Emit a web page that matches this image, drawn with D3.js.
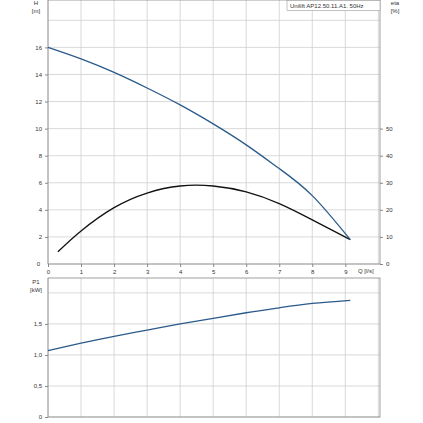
<!DOCTYPE html>
<html><head><meta charset="utf-8">
<script src="https://cdn.jsdelivr.net/npm/d3@7"></script>
<style>body{margin:0;background:#fff}text{font-family:"Liberation Sans",Arial,sans-serif;font-size:6px;fill:#333}</style>
</head><body><svg id="c" width="423" height="423"></svg>
<script>
"use strict";
const qH = [0, 1, 2, 3, 4, 5, 6, 7, 8, 9.15];
const headH = [16, 15.15, 14.15, 13.0, 11.75, 10.35, 8.8, 7.05, 5.05, 1.8];
const qEta = [0.3, 1, 2, 3, 4, 5, 6, 7, 8, 9.15];
const eta = [4.5, 12.2, 20.8, 26.2, 28.8, 28.8, 26.6, 22.3, 16.3, 9];
const qP = [0, 1, 2, 3, 4, 5, 6, 7, 8, 9.15];
const p1 = [1.07, 1.19, 1.3, 1.4, 1.5, 1.59, 1.68, 1.76, 1.83, 1.88];
const qTicks = [0, 1, 2, 3, 4, 5, 6, 7, 8, 9];
const hTicks = [0, 2, 4, 6, 8, 10, 12, 14, 16];
const etaTicks = [0, 10, 20, 30, 40, 50];
const pTicks = [0, 0.5, 1.0, 1.5, 2.0];
const title = "Unilift AP12.50.11.A1. 50Hz";

const svg = d3.select("#c");
const blue = "#2a5a8a", grid = "#cfcfcf", frame = "#888";
const x = d3.scaleLinear().domain([0, 10.05]).range([48, 380]);
const yH = d3.scaleLinear().domain([0, 19.5]).range([264, 0]);
const yE = d3.scaleLinear().domain([0, 97.5]).range([264, 0]);
const yP = d3.scaleLinear().domain([0, 2.24]).range([417, 278]);
const fmt = d => d === 0 ? "0" : d.toFixed(1).replace(".", ",");

function panel(y0, y1, yTicks) {
  const g = svg.append("g");
  qTicks.concat([10]).forEach(q => g.append("line").attr("x1", x(q)).attr("x2", x(q))
    .attr("y1", y0).attr("y2", y1).attr("stroke", grid).attr("stroke-width", 0.8));
  yTicks.forEach(v => g.append("line").attr("x1", 48).attr("x2", 380)
    .attr("y1", v).attr("y2", v).attr("stroke", grid).attr("stroke-width", 0.8));
  g.append("rect").attr("x", 48).attr("y", y0).attr("width", 332).attr("height", y1 - y0)
    .attr("fill", "none").attr("stroke", frame).attr("stroke-width", 0.8);
}
panel(0, 264, hTicks.concat([18]).map(yH));
panel(278, 417, pTicks.map(yP));

svg.append("g").attr("transform", "translate(48,0)")
  .call(d3.axisLeft(yH).tickValues(hTicks.filter(d => d > 0)).tickSize(3).tickFormat(d3.format("d")))
  .call(g => g.select(".domain").remove());
svg.append("text").attr("x", 40).attr("y", 266).attr("text-anchor", "end").text("0");
svg.append("g").attr("transform", "translate(380,0)")
  .call(d3.axisRight(yE).tickValues(etaTicks).tickSize(3)).call(g => g.select(".domain").remove());
svg.append("g").attr("transform", "translate(0,264)")
  .call(d3.axisBottom(x).tickValues(qTicks).tickSize(3)).call(g => g.select(".domain").remove());
svg.append("g").attr("transform", "translate(48,0)")
  .call(d3.axisLeft(yP).tickValues(pTicks.slice(0, 4)).tickSize(3).tickFormat(fmt))
  .call(g => g.select(".domain").remove());
svg.selectAll(".tick text").style("font-size", "6px").attr("fill", "#333");
svg.selectAll(".tick line").attr("stroke", frame);

svg.append("text").attr("x", 358).attr("y", 273).text("Q [l/s]");
[["H", 36, 5], ["[m]", 36, 13], ["eta", 395, 5], ["[%]", 395, 13], ["P1", 36, 284], ["[kW]", 36, 292]]
  .forEach(([t, tx, ty]) => svg.append("text").attr("x", tx).attr("y", ty).attr("text-anchor", "middle").text(t));

svg.append("rect").attr("x", 287).attr("y", 0.5).attr("width", 93).attr("height", 10)
  .attr("fill", "#fff").attr("stroke", "#999").attr("stroke-width", 0.6);
svg.append("text").attr("x", 290).attr("y", 8).text(title);

const line = (xs, ys, yS) => d3.line().curve(d3.curveNatural)
  .x((d, i) => x(xs[i])).y(d => yS(d))(ys);
svg.append("path").attr("d", line(qEta, eta, yE)).attr("fill", "none").attr("stroke", "#111").attr("stroke-width", 1.3);
svg.append("path").attr("d", line(qH, headH, yH)).attr("fill", "none").attr("stroke", blue).attr("stroke-width", 1.3);
svg.append("path").attr("d", line(qP, p1, yP)).attr("fill", "none").attr("stroke", blue).attr("stroke-width", 1.3);
</script></body></html>
